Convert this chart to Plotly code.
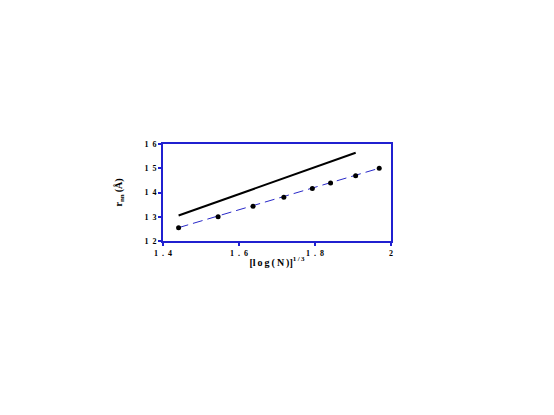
import plotly.graph_objects as go

# data
x_pts = [1.441, 1.545, 1.637, 1.718, 1.793, 1.841, 1.907, 1.969]
y_pts = [1.255, 1.300, 1.343, 1.380, 1.417, 1.439, 1.469, 1.500]
x_fit = [1.441, 1.969]
y_fit = [1.255, 1.500]
x_solid = [1.441, 1.907]
y_solid = [1.305, 1.564]

sp = "\u2002"
x_ticks = [1.4, 1.6, 1.8, 2.0]
x_ticktext = ["<b>1" + sp + "." + sp + "4</b>", "<b>1" + sp + "." + sp + "6</b>",
              "<b>1" + sp + "." + sp + "8</b>", "<b>2</b>"]
y_ticks = [1.2, 1.3, 1.4, 1.5, 1.6]
y_ticktext = ["<b>1" + sp + d + "</b>" for d in ["2", "3", "4", "5", "6"]]

ts = "\u2009"
x_title = "<b>[" + ts.join("log(N)") + "]<sup>1" + ts + "/" + ts + "3</sup></b>"
y_title = "<b>r<sub>nn</sub>" + ts + "(Å)</b>"

font = dict(family="Liberation Serif", size=8, color="black")
axcol = "#2020d0"

fig = go.Figure()
fig.add_trace(go.Scatter(x=x_solid, y=y_solid, mode="lines",
                         line=dict(color="black", width=2), showlegend=False))
fig.add_trace(go.Scatter(x=x_fit, y=y_fit, mode="lines",
                         line=dict(color="#2828c8", width=1, dash="10px,5px"), showlegend=False))
fig.add_trace(go.Scatter(x=x_pts, y=y_pts, mode="markers",
                         marker=dict(color="black", size=5), showlegend=False))

fig.update_layout(
    width=546, height=407,
    margin=dict(l=155, r=163, t=136, b=174),
    paper_bgcolor="white", plot_bgcolor="white",
    font=font,
    xaxis=dict(range=[1.4, 2.0], tickvals=x_ticks, ticktext=x_ticktext,
               showgrid=False, zeroline=False, showline=True, mirror=True,
               linecolor=axcol, linewidth=2, ticks="outside", ticklen=3,
               tickcolor=axcol, tickwidth=1.5,
               tickfont=dict(family="Liberation Serif", size=8, color="black"),
               title=dict(text=x_title, standoff=2,
                          font=dict(family="Liberation Serif", size=10))),
    yaxis=dict(range=[1.2, 1.6], tickvals=y_ticks, ticktext=y_ticktext,
               showgrid=False, zeroline=False, showline=True, mirror=True,
               linecolor=axcol, linewidth=2, ticks="outside", ticklen=3,
               tickcolor=axcol, tickwidth=1.5,
               tickfont=dict(family="Liberation Serif", size=8, color="black"),
               title=dict(text=y_title, standoff=20,
                          font=dict(family="Liberation Serif", size=10))),
)

fig.write_html("out.html")
